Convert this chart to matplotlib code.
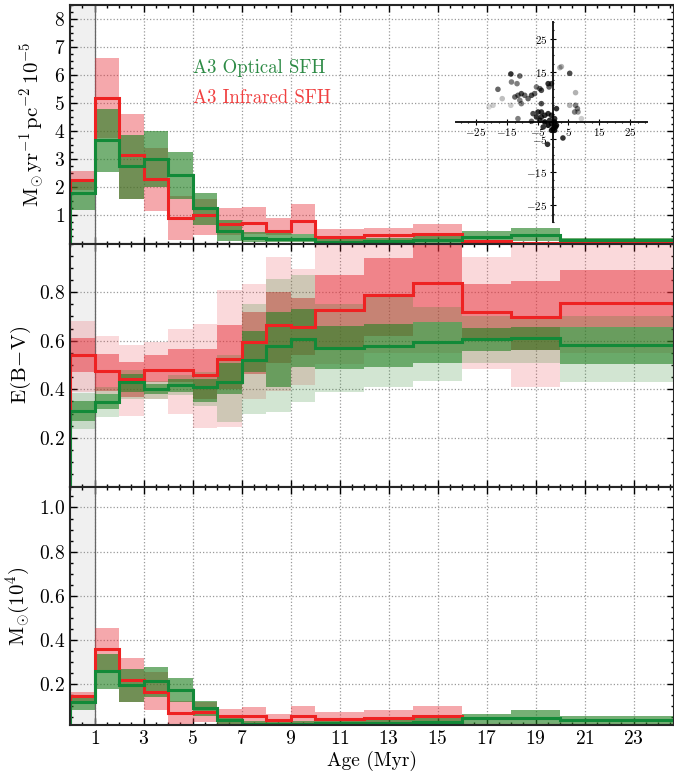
import numpy as np
import matplotlib.pyplot as plt
from matplotlib.ticker import FixedLocator, MultipleLocator

plt.rcParams['font.family'] = 'cmr10'
plt.rcParams['mathtext.fontset'] = 'cm'
plt.rcParams['axes.formatter.use_mathtext'] = True

# bin edges (Myr)
edges = [0, 1, 2, 3, 4, 5, 6, 7, 8, 9, 10, 12, 14, 16, 18, 20, 25]

# SFR surface density (1e-5 Msun/yr/pc2)
opt_sfr = [1.8, 3.7, 2.75, 3.0, 2.45, 1.25, 0.45, 0.2, 0.17, 0.15, 0.06, 0.08, 0.12, 0.23, 0.32, 0.11]
opt_sfr_lo = [1.2, 2.55, 1.6, 2.0, 1.6, 0.65, 0.1, 0.05, 0.05, 0.05, 0.0, 0.02, 0.03, 0.03, 0.1, 0.05]
opt_sfr_hi = [2.25, 4.8, 3.85, 4.0, 3.25, 1.8, 0.85, 0.4, 0.4, 0.35, 0.15, 0.18, 0.28, 0.45, 0.56, 0.2]
ir_sfr = [2.27, 5.2, 3.15, 2.3, 0.9, 1.02, 0.7, 0.72, 0.45, 0.8, 0.23, 0.3, 0.35, 0.08, 0.02, 0.02]
ir_sfr_lo = [1.9, 3.75, 1.6, 1.15, 0.13, 0.3, 0.3, 0.35, 0.3, 0.35, 0.05, 0.1, 0.05, 0.0, 0.0, 0.0]
ir_sfr_hi = [2.6, 6.6, 4.6, 3.4, 1.7, 1.6, 1.25, 1.3, 0.9, 1.4, 0.5, 0.56, 0.7, 0.12, 0.05, 0.05]

# E(B-V)
opt_ebv = [0.31, 0.347, 0.432, 0.402, 0.416, 0.409, 0.43, 0.519, 0.58, 0.608, 0.572, 0.58, 0.594, 0.608, 0.611, 0.583]
opt_ebv_in_lo = [0.27, 0.32, 0.388, 0.38, 0.388, 0.347, 0.38, 0.47, 0.41, 0.49, 0.485, 0.49, 0.51, 0.556, 0.56, 0.505]
opt_ebv_in_hi = [0.35, 0.38, 0.464, 0.42, 0.443, 0.443, 0.51, 0.642, 0.718, 0.73, 0.66, 0.67, 0.676, 0.652, 0.656, 0.656]
opt_ebv_out_lo = [0.235, 0.285, 0.36, 0.36, 0.375, 0.33, 0.265, 0.3, 0.306, 0.347, 0.39, 0.41, 0.436, 0.51, 0.51, 0.43]
opt_ebv_out_hi = [0.385, 0.41, 0.48, 0.436, 0.457, 0.47, 0.54, 0.75, 0.855, 0.87, 0.75, 0.78, 0.74, 0.7, 0.7, 0.7]
ir_ebv = [0.542, 0.475, 0.443, 0.48, 0.478, 0.457, 0.526, 0.594, 0.666, 0.656, 0.725, 0.787, 0.837, 0.718, 0.697, 0.755]
ir_ebv_in_lo = [0.47, 0.395, 0.368, 0.43, 0.43, 0.36, 0.40, 0.464, 0.51, 0.54, 0.57, 0.62, 0.676, 0.61, 0.56, 0.656]
ir_ebv_in_hi = [0.61, 0.546, 0.512, 0.54, 0.567, 0.567, 0.666, 0.718, 0.80, 0.775, 0.87, 0.94, 1.0, 0.835, 0.845, 0.89]
ir_ebv_out_lo = [0.39, 0.38, 0.29, 0.36, 0.30, 0.24, 0.245, 0.36, 0.395, 0.416, 0.505, 0.55, 0.55, 0.485, 0.41, 0.55]
ir_ebv_out_hi = [0.68, 0.62, 0.583, 0.594, 0.65, 0.67, 0.81, 0.835, 0.945, 0.896, 1.0, 1.0, 1.0, 0.945, 1.0, 1.0]

# stellar mass (1e4 Msun)
opt_m = [0.117, 0.257, 0.197, 0.215, 0.173, 0.09, 0.038, 0.02, 0.02, 0.02, 0.022, 0.024, 0.027, 0.045, 0.047, 0.035]
opt_m_lo = [0.08, 0.177, 0.117, 0.14, 0.117, 0.057, 0.005, 0.005, 0.005, 0.005, 0.01, 0.01, 0.01, 0.02, 0.02, 0.02]
opt_m_hi = [0.147, 0.335, 0.268, 0.278, 0.227, 0.125, 0.06, 0.03, 0.03, 0.03, 0.035, 0.035, 0.045, 0.065, 0.083, 0.057]
ir_m = [0.144, 0.36, 0.218, 0.162, 0.069, 0.072, 0.057, 0.053, 0.035, 0.054, 0.04, 0.047, 0.057, 0.015, 0.015, 0.015]
ir_m_lo = [0.117, 0.26, 0.117, 0.083, 0.012, 0.027, 0.01, 0.01, 0.01, 0.01, 0.01, 0.01, 0.027, 0.005, 0.005, 0.005]
ir_m_hi = [0.162, 0.456, 0.32, 0.253, 0.125, 0.117, 0.087, 0.095, 0.065, 0.1, 0.072, 0.083, 0.1, 0.02, 0.02, 0.02]

# inset scatter
inset_x = [-13.7, -10.8, -13.5, -11.7, -17.9, -16.5, -19.5, -20.8, -13.7, -12.4, -11.4, -10.3, -9.2, -10.8,
           -8.1, -7.0, -6.0, -5.4, -4.3, -3.8, -10.3, -11.4, -1.6, -0.5, -1.3, 2.2, 2.7, 5.4, 7.3, 5.4,
           7.3, 7.9, 7.0, 8.1, 9.2, -3.8, 1.1, -6.5, -4.9, -3.8, -5.4, -3.8, -2.7, -1.6, -0.5, -4.3,
           -2.7, -1.6, -0.5, 0.5, 1.1, 0.0, 0.5, -0.5, 0.8, 3.2, -1.8, -3.2, -7.0, 0.5, -1.1]
inset_y = [14.4, 13.8, 12.0, 11.5, 9.8, 7.0, 5.0, 4.5, 5.0, 7.5, 8.0, 8.5, 8.0, 6.5,
           7.0, 8.0, 8.5, 10.5, 10.0, 9.5, 5.5, 1.0, 11.5, 11.5, 10.5, 16.3, 16.6, 14.6, 8.8, 5.0,
           5.0, 4.0, 3.0, 3.0, 1.0, 5.5, 4.0, 2.5, 3.0, 3.0, 1.5, 1.5, 2.0, 2.5, 2.0, 0.5,
           0.0, -1.0, -0.5, 0.0, -1.0, -2.0, -2.5, -2.5, -1.5, -4.8, -6.7, -1.5, 0.2, 1.0, 0.5]
inset_a = [0.8, 0.6, 0.5, 0.5, 0.6, 0.25, 0.2, 0.15, 0.2, 0.6, 0.6, 0.7, 0.6, 0.5,
           0.6, 0.7, 0.6, 0.5, 0.6, 0.7, 0.5, 0.5, 0.8, 0.7, 0.6, 0.3, 0.3, 0.7, 0.3, 0.3,
           0.5, 0.5, 0.5, 0.4, 0.2, 0.7, 0.8, 0.7, 0.8, 0.8, 0.8, 0.8, 0.8, 0.8, 0.8, 0.8,
           0.9, 0.9, 0.9, 0.9, 0.9, 0.9, 0.9, 0.9, 0.9, 0.8, 0.8, 0.8, 0.6, 0.8, 0.8]

RED = '#ee2222'
GREEN = '#128a38'
RED_BAND = '#e8303a'
GREEN_BAND = '#208020'
XMAX = 24.65

fig = plt.figure(figsize=(6.74, 7.74), dpi=100)
ax1 = fig.add_axes([0.104, 0.6854, 0.896, 0.3081])
ax2 = fig.add_axes([0.104, 0.3714, 0.896, 0.314])
ax3 = fig.add_axes([0.104, 0.0627, 0.896, 0.3087])


def band(ax, lo, hi, color, alpha):
    ax.stairs(hi, edges, baseline=lo, fill=True, color=color, alpha=alpha, lw=0, zorder=2)


def step(ax, vals, color):
    ax.stairs(vals, edges, color=color, lw=2.2, zorder=4)


def style(ax, ylim, yticks, yminor):
    ax.set_xlim(0, XMAX)
    ax.set_ylim(*ylim)
    ax.axvspan(0, 1, color='0.94', lw=0, zorder=0)
    ax.axvline(1, color='0.4', lw=0.9, zorder=1)
    ax.xaxis.set_major_locator(FixedLocator(np.arange(1, 25, 2)))
    ax.xaxis.set_minor_locator(MultipleLocator(0.5))
    ax.yaxis.set_major_locator(FixedLocator(yticks))
    ax.yaxis.set_minor_locator(MultipleLocator(yminor))
    ax.grid(True, which='major', ls=':', color='0.6', lw=0.9, zorder=1)
    ax.set_axisbelow(True)
    ax.tick_params(which='both', direction='in', top=True, right=True, labelsize=14, width=1)
    ax.tick_params(which='major', length=5)
    ax.tick_params(which='minor', length=2.5)
    for sp in ax.spines.values():
        sp.set_linewidth(1.5)
        sp.set_color('0.15')
        sp.set_zorder(6)


# top: SFR
band(ax1, ir_sfr_lo, ir_sfr_hi, RED_BAND, 0.42)
band(ax1, opt_sfr_lo, opt_sfr_hi, GREEN_BAND, 0.62)
step(ax1, ir_sfr, RED)
step(ax1, opt_sfr, GREEN)
style(ax1, (0, 8.5), [1, 2, 3, 4, 5, 6, 7, 8], 0.25)
ax1.tick_params(labelbottom=False)
ax1.set_ylabel(r'$\mathrm{M_{\odot}\,yr^{-1}\,pc^{-2}\,10^{-5}}$', fontsize=15)
ax1.text(5.0, 6.25, 'A3 Optical SFH', color='#2e8b46', fontsize=13.5, va='center')
ax1.text(5.0, 5.2, 'A3 Infrared SFH', color='#f04040', fontsize=13.5, va='center')

# middle: E(B-V)
band(ax2, ir_ebv_out_lo, ir_ebv_out_hi, RED_BAND, 0.18)
band(ax2, ir_ebv_in_lo, ir_ebv_in_hi, RED_BAND, 0.5)
band(ax2, opt_ebv_out_lo, opt_ebv_out_hi, GREEN_BAND, 0.2)
band(ax2, opt_ebv_in_lo, opt_ebv_in_hi, GREEN_BAND, 0.58)
step(ax2, ir_ebv, RED)
step(ax2, opt_ebv, GREEN)
style(ax2, (0, 1.0), [0.2, 0.4, 0.6, 0.8], 0.05)
ax2.tick_params(labelbottom=False)
ax2.set_ylabel(r'$\mathrm{E(B\!-\!V)}$', fontsize=15)

# bottom: mass
band(ax3, ir_m_lo, ir_m_hi, RED_BAND, 0.42)
band(ax3, opt_m_lo, opt_m_hi, GREEN_BAND, 0.62)
step(ax3, ir_m, RED)
step(ax3, opt_m, GREEN)
style(ax3, (0.012, 1.095), [0.2, 0.4, 0.6, 0.8, 1.0], 0.05)
ax3.set_ylabel(r'$\mathrm{M_{\odot}(10^4)}$', fontsize=15)
ax3.set_xlabel('Age (Myr)', fontsize=14, labelpad=2)

# inset
axin = fig.add_axes([0.6766, 0.7132, 0.2834, 0.2584])
axin.patch.set_alpha(0)
axin.set_xlim(-31.5, 30.5)
axin.set_ylim(-30, 30)
axin.spines['left'].set_position(('data', 0))
axin.spines['bottom'].set_position(('data', 0))
axin.spines['top'].set_visible(False)
axin.spines['right'].set_visible(False)
for sp in ['left', 'bottom']:
    axin.spines[sp].set_linewidth(1.4)
    axin.spines[sp].set_color('0.1')
axin.set_xticks([-25, -15, -5, 5, 15, 25])
axin.set_yticks([-25, -15, -5, 15, 25])
axin.xaxis.set_minor_locator(MultipleLocator(2.5))
axin.yaxis.set_minor_locator(MultipleLocator(2.5))
axin.tick_params(which='both', direction='inout', labelsize=8, width=0.8)
axin.tick_params(which='major', length=4, pad=1)
axin.tick_params(which='minor', length=2)
axin.tick_params(axis='y', pad=2)
axin.scatter(inset_x, inset_y, s=16, c=[(0, 0, 0, a) for a in inset_a], lw=0, zorder=5)

fig.savefig('out.png', dpi=100)
